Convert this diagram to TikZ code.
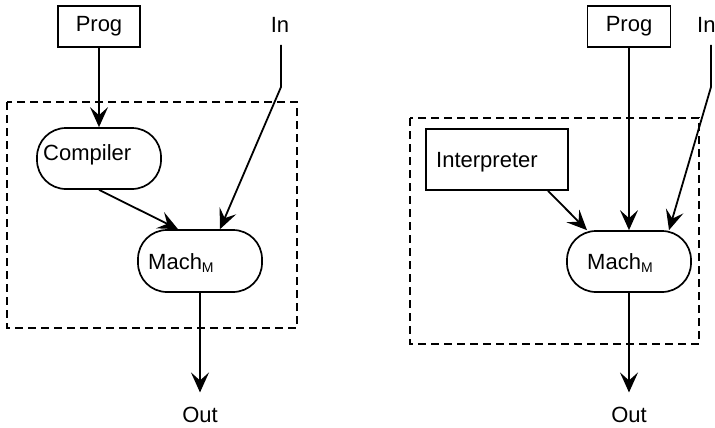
\documentclass[tikz,border=0pt]{standalone}
\usepackage{fontspec}
\setmainfont{Liberation Sans}
\usetikzlibrary{arrows.meta,calc}
% lowered, smaller "M" used as the machine subscript
\newcommand{\machsub}{{\fontsize{14}{14}\selectfont\raisebox{-3pt}{M}}}
\begin{document}
\begin{tikzpicture}[x=1pt,y=-1pt,
  font=\fontsize{22}{26}\selectfont,
  rect/.style={draw, line width=1.7pt, inner sep=0pt},
  pill/.style={draw, line width=1.7pt, rounded corners=29pt, inner sep=0pt},
  txt/.style={inner sep=0pt, anchor=base west},
  lbl/.style={inner sep=0pt, anchor=base},
  flow/.style={line width=1.8pt, -{Stealth[length=20pt,width=18pt,inset=8pt]}},
  frame/.style={line width=1.6pt, dash pattern=on 8pt off 5pt}]
\useasboundingbox (0,0) rectangle (715,428);

% ---------------- compiler ----------------
\draw[frame] (7,102) rectangle (297,328);
\node[rect, minimum width=82pt, minimum height=41pt] (progA) at (99,26.5) {Prog};
\node[pill, minimum width=124pt, minimum height=61pt] (comp) at (99,158.5) {};
\node[txt] (compT) at (43,160) {Compiler};
\node[pill, minimum width=124pt, minimum height=62pt] (machA) at (200,261) {};
\node[txt] (machAT) at (148,269) {Mach\machsub};
\node[lbl] (inA) at (280,33) {In};
\coordinate (inAtop) at (281,45);
\coordinate (inAbend) at (281,87);
\node[lbl] (outA) at (200,422) {Out};

\draw[flow] (progA.south) -- (comp.north);
\draw[flow] (comp.south) -- ($(machA.north)+(-22,0)$);
\draw[flow] (inAtop) -- (inAbend) -- ($(machA.north)+(20,0)$);
\draw[flow] (machA.south) -- ($(machA.south |- outA.north)+(0,-14)$);

% ---------------- interpreter ----------------
\draw[frame] (410,118) rectangle (699,344);
\node[rect, minimum width=83pt, minimum height=41pt] (progB) at (629,26.5) {Prog};
\node[rect, minimum width=142pt, minimum height=61pt] (interp) at (497,159.5) {};
\node[txt] (interpT) at (436,167) {Interpreter};
\node[pill, minimum width=124pt, minimum height=61pt] (machB) at (629,261.5) {};
\node[txt] (machBT) at (587,269) {Mach\machsub};
\node[txt] (inB) at (697,33) {In};
\coordinate (inBtop) at (711,45);
\coordinate (inBbend) at (711,87);
\node[lbl] (outB) at (629,422) {Out};

\draw[flow] (progB.south) -- (machB.north);
\draw[flow] ($(interp.south)+(51,0)$) -- ($(machB.north)+(-42,0)$);
\draw[flow] (inBtop) -- (inBbend) -- ($(machB.north)+(40,0)$);
\draw[flow] (machB.south) -- ($(machB.south |- outB.north)+(0,-14)$);
\end{tikzpicture}
\end{document}
